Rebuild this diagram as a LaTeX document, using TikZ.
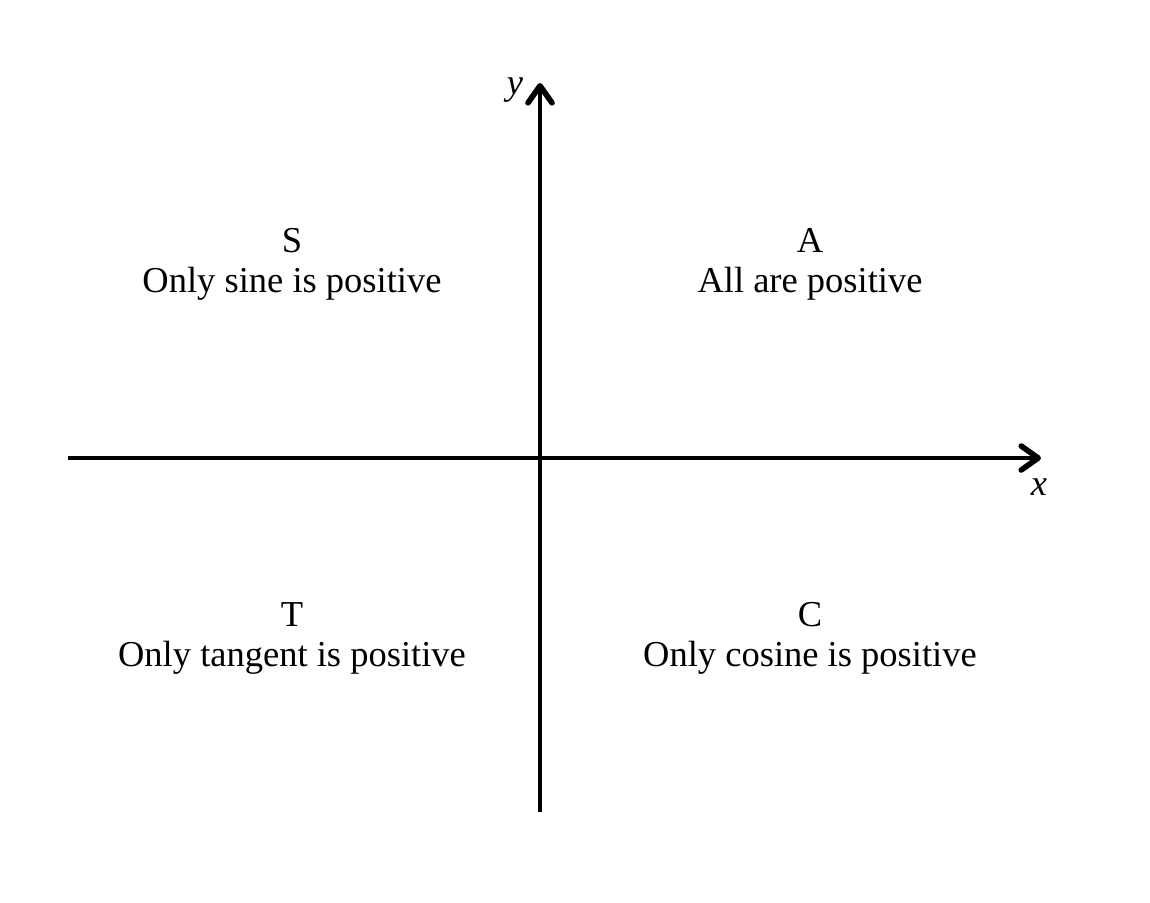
\documentclass[tikz,border=0pt]{standalone}
\usepackage{fontspec}
\setmainfont{Liberation Serif}
\usetikzlibrary{arrows.meta}
\begin{document}
\begin{tikzpicture}[x=0.5pt,y=-0.5pt,
  axis/.style={line width=2.2pt,-{Straight Barb[length=8.5pt,width=12pt,line width=2.8pt,round]}},
  lbl/.style={anchor=base,inner sep=0pt,font=\fontsize{18.25}{20}\selectfont},
  axlbl/.style={anchor=base,inner sep=0pt,font=\fontsize{18.25}{20}\selectfont\itshape}]
\useasboundingbox (0,0) rectangle (1150,902);
\coordinate (xs) at (68,458);
\coordinate (xe) at (1041,458);
\coordinate (ys) at (540,812);
\coordinate (ye) at (540,83);
\draw[axis] (xs) -- (xe);
\draw[axis] (ys) -- (ye);
\node[axlbl] (ylab) at (515,94) {y};
\node[axlbl] (xlab) at (1039,495) {x};
\node[lbl] (S) at (292,252) {S};
\node[lbl] (Sd) at (292,292) {Only sine is positive};
\node[lbl] (A) at (810,252) {A};
\node[lbl] (Ad) at (810,292) {All are positive};
\node[lbl] (T) at (292,626) {T};
\node[lbl] (Td) at (292,666) {Only tangent is positive};
\node[lbl] (C) at (810,626) {C};
\node[lbl] (Cd) at (810,666) {Only cosine is positive};
\end{tikzpicture}
\end{document}
